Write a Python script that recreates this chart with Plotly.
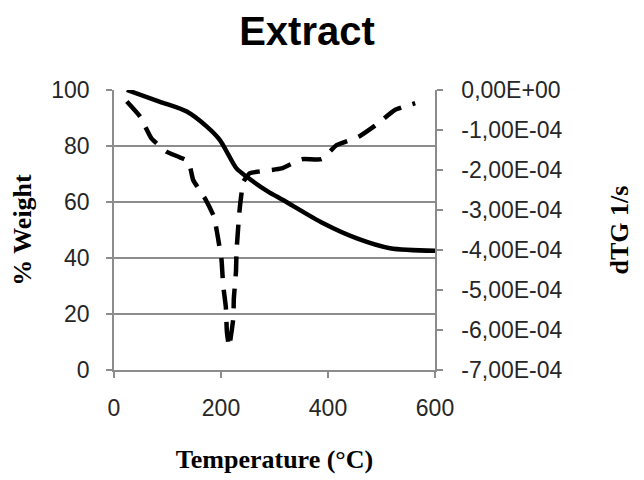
import plotly.graph_objects as go

# Weight curve (left axis)
temp_w = [24, 86, 136, 173, 198, 214, 229, 248, 288, 316, 391, 454, 516, 600]
weight = [100, 95.8, 92.3, 87.0, 82.1, 76.8, 72.0, 69.0, 63.7, 60.7, 52.4, 47.0, 43.5, 42.6]

# dTG curve (right axis)
temp_d = [24, 49, 70, 98, 139, 148, 170, 187, 195, 201, 204, 209, 211, 215,
          223, 224, 228, 229, 232, 235, 242, 254, 270, 313, 351, 388, 416, 457, 491, 525, 563]
dtg = [-0.29e-4, -0.67e-4, -1.21e-4, -1.54e-4, -1.79e-4, -2.25e-4, -2.71e-4, -3.17e-4,
       -3.75e-4, -4.25e-4, -4.88e-4, -5.42e-4, -6.04e-4, -6.42e-4,
       -5.71e-4, -5.21e-4, -4.54e-4, -4.04e-4, -3.46e-4, -2.96e-4, -2.29e-4, -2.08e-4,
       -2.04e-4, -1.96e-4, -1.73e-4, -1.73e-4, -1.38e-4, -1.17e-4, -0.86e-4, -0.5e-4, -0.33e-4]

x_ticks = [0, 200, 400, 600]
y_ticks = [0, 20, 40, 60, 80, 100]
y2_ticks = [0, -1e-4, -2e-4, -3e-4, -4e-4, -5e-4, -6e-4, -7e-4]
y2_labels = ["0,00E+00", "-1,00E-04", "-2,00E-04", "-3,00E-04",
             "-4,00E-04", "-5,00E-04", "-6,00E-04", "-7,00E-04"]

grey = "#8c8c8c"
tickfont = dict(family="Liberation Sans, Arial, sans-serif", size=23, color="#262626")
titlefont = dict(family="Liberation Serif, Times New Roman, serif", size=26, color="black")

W, H = 636, 472  # page body has an 8px margin

fig = go.Figure()
fig.add_trace(go.Scatter(x=temp_w, y=weight, mode="lines",
                         line=dict(color="black", width=4.5, shape="spline", smoothing=0.8),
                         cliponaxis=False, showlegend=False))
fig.add_trace(go.Scatter(x=temp_d, y=dtg, mode="lines", yaxis="y2",
                         line=dict(color="black", width=4.5, dash="20px,12px", shape="spline", smoothing=0.4),
                         cliponaxis=False, showlegend=False))

fig.update_layout(
    width=W, height=H,
    margin=dict(l=106, r=209, t=82, b=110),
    paper_bgcolor="white", plot_bgcolor="white",
    title=dict(text="<b>Extract</b>", font=dict(family="Liberation Sans, Arial, sans-serif", size=40, color="black"),
               xref="container", yref="container", x=299/W, y=1-9/H, xanchor="center", yanchor="top",
               pad=dict(t=0, b=0, l=0, r=0)),
    xaxis=dict(range=[0, 600], tickvals=x_ticks, showgrid=False, showline=True, linecolor=grey, linewidth=1.5,
               ticks="outside", ticklen=6, tickcolor=grey, tickwidth=1.5, tickfont=tickfont, zeroline=False,
               ticklabelstandoff=11, automargin=False,
               title=dict(text="<b>Temperature (°C)</b>", font=titlefont, standoff=29)),
    yaxis=dict(range=[0, 100], tickvals=y_ticks, showgrid=True, gridcolor=grey, gridwidth=1.5,
               showline=True, linecolor=grey, linewidth=1.5, ticks="outside", ticklen=6, tickcolor=grey,
               tickwidth=1.5, tickfont=tickfont, zeroline=False, ticklabelstandoff=12, automargin=False,
               title=dict(text="<b>% Weight</b>", font=titlefont, standoff=20)),
    yaxis2=dict(range=[-7e-4, 0], tickvals=y2_ticks, ticktext=y2_labels, overlaying="y", side="right",
                showgrid=False, showline=True, linecolor=grey, linewidth=1.5, ticks="outside", ticklen=6,
                tickcolor=grey, tickwidth=1.5, tickfont=tickfont, zeroline=False, ticklabelstandoff=14,
                automargin=False,
                title=dict(text="<b>dTG 1/s</b>", font=titlefont, standoff=48)),
)

fig.write_html("out.html")
